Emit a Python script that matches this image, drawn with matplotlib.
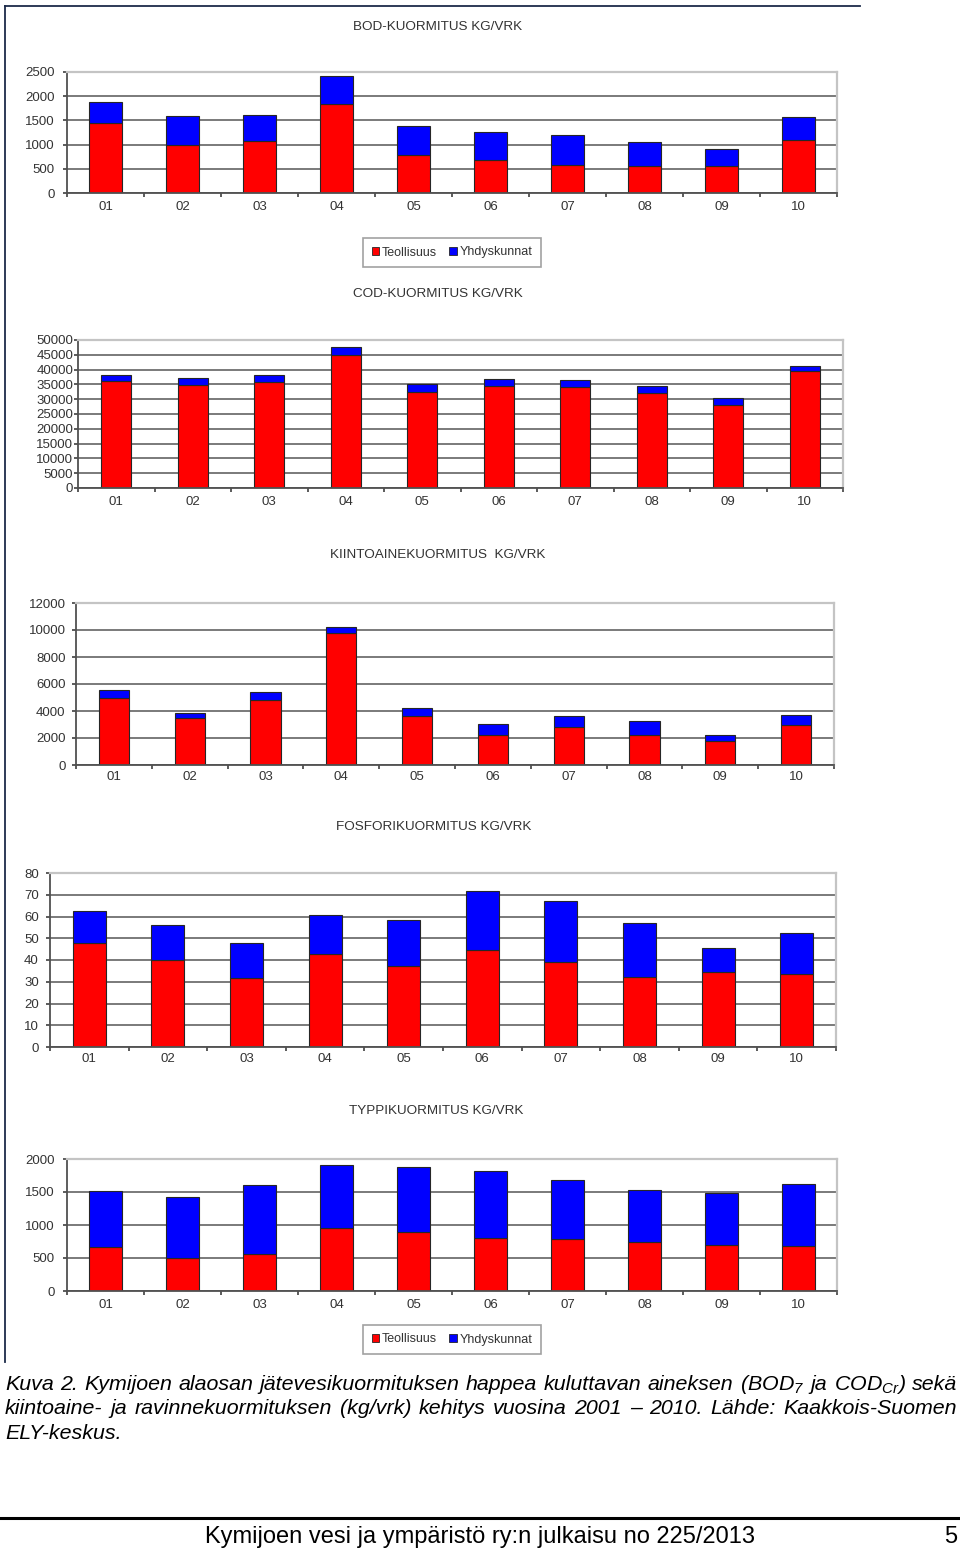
import matplotlib
matplotlib.use("Agg")
import matplotlib.pyplot as plt
import numpy as np
from matplotlib.lines import Line2D
from matplotlib.patches import Patch

W, H = 960, 1548

# ── data (kg/vrk) ──
vuodet = ["01", "02", "03", "04", "05", "06", "07", "08", "09", "10"]

bod_teollisuus = [1450, 990, 1080, 1840, 790, 680, 580, 560, 560, 1100]
bod_yhdyskunnat = [420, 600, 540, 570, 600, 590, 610, 500, 340, 460]

cod_teollisuus = [36300, 34700, 35700, 45000, 32500, 34600, 34000, 32000, 28100, 39400]
cod_yhdyskunnat = [1900, 2500, 2500, 2600, 2600, 2250, 2500, 2500, 2250, 1800]

kiinto_teollisuus = [5000, 3450, 4800, 9750, 3650, 2200, 2800, 2200, 1750, 3000]
kiinto_yhdyskunnat = [550, 400, 600, 480, 570, 820, 840, 1030, 470, 700]

fosfori_teollisuus = [47.6, 39.8, 31.6, 42.9, 37.4, 44.4, 39.2, 32.1, 34.4, 33.6]
fosfori_yhdyskunnat = [14.8, 16.4, 16.2, 17.6, 21.1, 27.2, 27.8, 24.8, 11.2, 18.8]

typpi_teollisuus = [660, 505, 560, 955, 890, 800, 790, 740, 700, 680]
typpi_yhdyskunnat = [860, 920, 1050, 955, 985, 1015, 885, 795, 790, 945]

RED = "#ff0000"
BLUE = "#0000ff"
EDGE = "#262626"
GRID = "#7a7a7a"
TEXT = "#333333"

plt.rcParams.update({
    "font.family": ["Liberation Sans", "DejaVu Sans"],
    "mathtext.fontset": "custom",
    "mathtext.rm": "Liberation Sans:italic",
    "mathtext.it": "Liberation Sans:italic",
})

fig = plt.figure(figsize=(W / 100, H / 100), dpi=100)


def px_box(left, right, top, bottom):
    return [left / W, 1 - bottom / H, (right - left) / W, (bottom - top) / H]


def draw_chart(box, teol, yhd, ymax, step, title, tx, ty, bar_w, ypad, xpad):
    ax = fig.add_axes(px_box(*box))
    x = np.arange(len(vuodet))
    ax.bar(x, teol, bar_w, color=RED, edgecolor=EDGE, linewidth=0.8, zorder=2)
    ax.bar(x, yhd, bar_w, bottom=teol, color=BLUE, edgecolor=EDGE,
           linewidth=0.8, zorder=2)
    ax.set_xlim(-0.5, len(vuodet) - 0.5)
    ax.set_ylim(0, ymax)
    ax.set_yticks(np.arange(0, ymax + step, step))
    ax.set_xticks(x, vuodet)
    ax.set_xticks(np.arange(-0.5, len(vuodet), 1), minor=True)
    ax.tick_params(axis="x", which="major", length=0, pad=xpad,
                   labelsize=9.5, labelcolor=TEXT)
    ax.tick_params(axis="x", which="minor", length=3, width=1.2, color="#404040")
    ax.tick_params(axis="y", length=3, width=1.2, color="#404040", pad=ypad,
                   labelsize=9.5, labelcolor=TEXT)
    ax.yaxis.grid(True, color=GRID, linewidth=1.4)
    ax.set_axisbelow(True)
    for s in ("top", "right"):
        ax.spines[s].set_color("#c4c4c4")
        ax.spines[s].set_linewidth(1.6)
    for s in ("bottom", "left"):
        ax.spines[s].set_color("#505050")
        ax.spines[s].set_linewidth(1.3)
    fig.text(tx / W, 1 - ty / H, title, ha="center", va="center",
             fontsize=9.7, color=TEXT)
    return ax


def add_legend(cy):
    handles = [Patch(facecolor=RED, edgecolor=EDGE, linewidth=0.6, label="Teollisuus"),
               Patch(facecolor=BLUE, edgecolor=EDGE, linewidth=0.6, label="Yhdyskunnat")]
    leg = fig.legend(handles=handles, loc="center", ncol=2,
                     bbox_to_anchor=(452 / W, 1 - cy / H),
                     fontsize=9, frameon=True, fancybox=False,
                     handlelength=0.6, handleheight=0.6, handletextpad=0.2,
                     columnspacing=1.0, borderpad=0.7)
    leg.get_frame().set_edgecolor("#8a8a8a")
    leg.get_frame().set_linewidth(1.2)
    for t in leg.get_texts():
        t.set_color(TEXT)


draw_chart((67, 837, 72, 193), bod_teollisuus, bod_yhdyskunnat, 2500, 500,
           "BOD-KUORMITUS KG/VRK", 438, 27, 0.43, 6, 6)
add_legend(252.5)

draw_chart((78, 843, 340, 488), cod_teollisuus, cod_yhdyskunnat, 50000, 5000,
           "COD-KUORMITUS KG/VRK", 438, 294, 0.39, 0.5, 6)

draw_chart((76, 834, 603, 765), kiinto_teollisuus, kiinto_yhdyskunnat, 12000, 2000,
           "KIINTOAINEKUORMITUS  KG/VRK", 438, 555, 0.40, 4.5, 4.5)

draw_chart((50, 836, 873, 1047), fosfori_teollisuus, fosfori_yhdyskunnat, 80, 10,
           "FOSFORIKUORMITUS KG/VRK", 434, 827, 0.42, 5, 4.5)

draw_chart((67, 837, 1159, 1291), typpi_teollisuus, typpi_yhdyskunnat, 2000, 500,
           "TYPPIKUORMITUS KG/VRK", 436, 1111, 0.43, 6, 6)
add_legend(1339.5)

# page frame round the figure
fig.add_artist(Line2D([5 / W, 5 / W], [1 - 6 / H, 1 - 1362 / H],
                      color="#1c2b4a", linewidth=1.3))
fig.add_artist(Line2D([5 / W, 860 / W], [1 - 6 / H, 1 - 6 / H],
                      color="#1c2b4a", linewidth=1.3))

# ── caption, justified lines ──
renderer = fig.canvas.get_renderer()

rivi1 = ("Kuva 2. Kymijoen alaosan jätevesikuormituksen happea kuluttavan "
         "aineksen (BOD$_7$ ja COD$_{Cr}$) sekä")
rivi2 = ("kiintoaine- ja ravinnekuormituksen (kg/vrk) kehitys vuosina "
         "2001 – 2010. Lähde: Kaakkois-Suomen")

# font size chosen so that the longest line fills the text width
koe = fig.text(0, 0, rivi2, fontsize=14, style="italic")
fs = 14 * 940 / koe.get_window_extent(renderer).width
koe.remove()


def justify(words, baseline, x0, x1):
    texts = [fig.text(0, 1 - baseline / H, w, fontsize=fs, style="italic",
                      ha="left", va="baseline", color="black") for w in words]
    widths = [t.get_window_extent(renderer).width for t in texts]
    gap = (x1 - x0 - sum(widths)) / (len(words) - 1)
    x = x0
    for t, w in zip(texts, widths):
        t.set_x(x / W)
        x += w + gap


justify(rivi1.split(" "), 1390, 5, 957)
justify(rivi2.split(" "), 1414, 5, 957)
fig.text(5 / W, 1 - 1439 / H, "ELY-keskus.", fontsize=fs, style="italic",
         ha="left", va="baseline", color="black")

# ── footer ──
fig.add_artist(Line2D([0, 1], [1 - 1518 / H, 1 - 1518 / H],
                      color="black", linewidth=2.2))
fig.text(480 / W, 1 - 1543 / H, "Kymijoen vesi ja ympäristö ry:n julkaisu no 225/2013",
         fontsize=17, ha="center", va="baseline", color="black")
fig.text(957 / W, 1 - 1543 / H, "5", fontsize=17, ha="right", va="baseline",
         color="black")

fig.savefig("out.png", dpi=100)
